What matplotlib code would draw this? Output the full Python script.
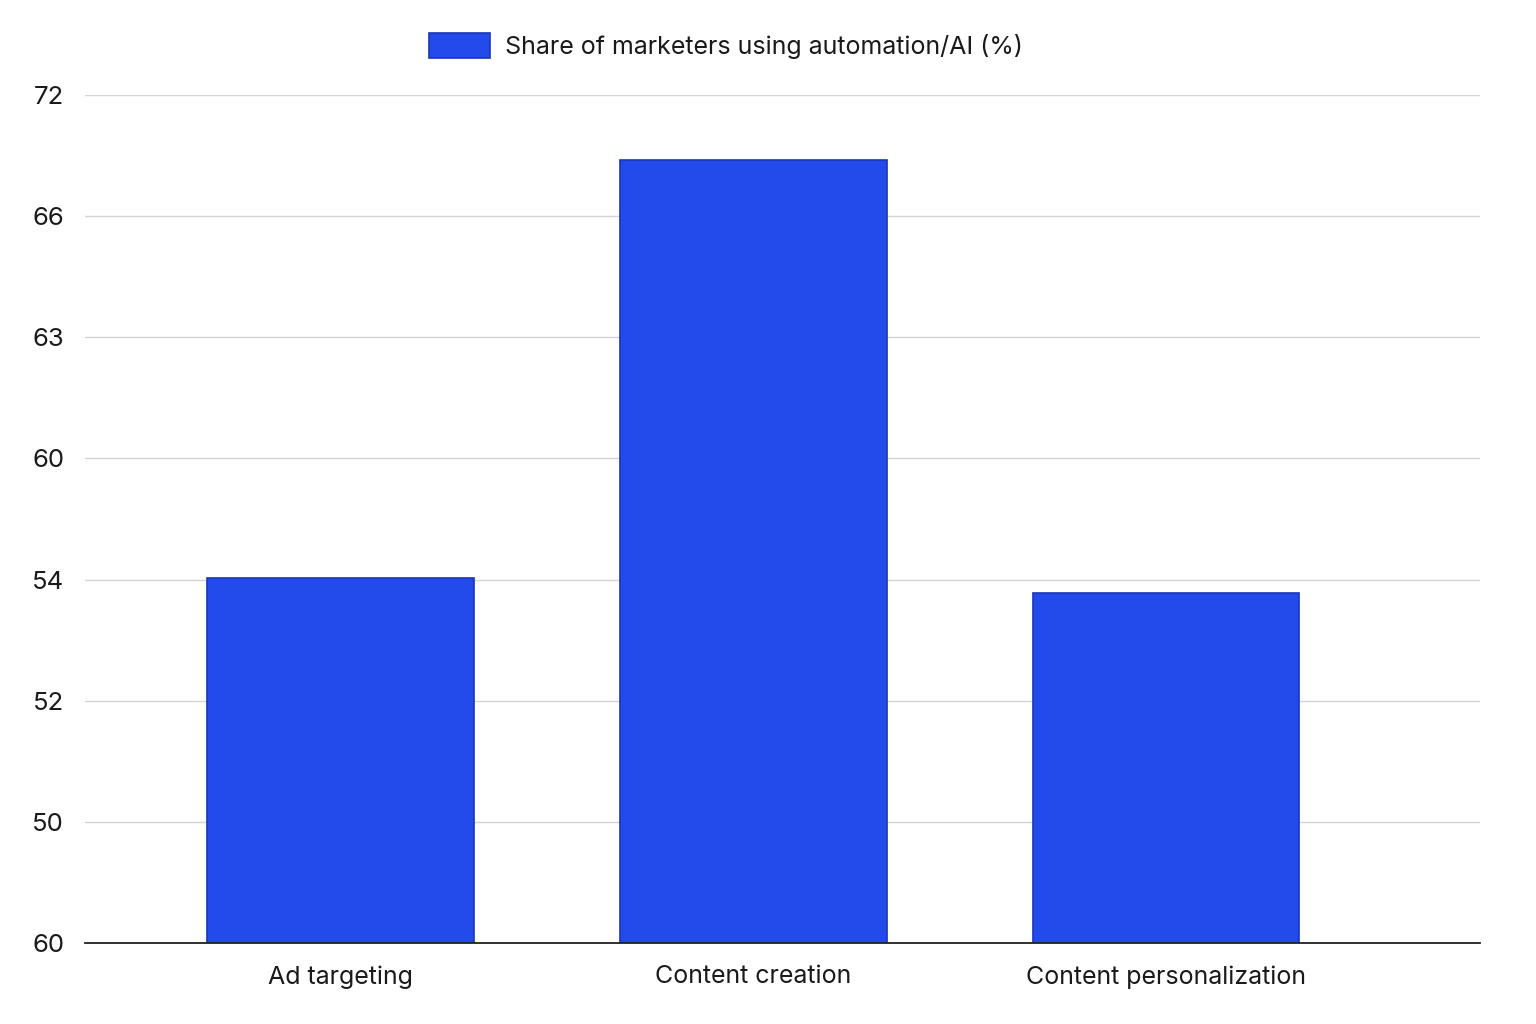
import matplotlib
matplotlib.use("Agg")
import matplotlib.pyplot as plt
import numpy as np

categories = ["Ad targeting", "Content creation", "Content personalization"]
# bar heights measured in grid steps above the baseline (the axis labels are not linear)
values = [3.01, 6.46, 2.89]
tick_labels = ["60", "50", "52", "54", "60", "63", "66", "72"]
series_name = "Share of marketers using automation/AI (%)"

plt.rcParams['font.family'] = ['Inter', 'DejaVu Sans']

fig = plt.figure(figsize=(15.36, 10.24), dpi=100)
ax = fig.add_axes([85/1536, 1-943/1024, (1480-85)/1536, (943-95)/1024])

x = np.arange(len(categories))
bars = ax.bar(x, values, width=0.645, color="#234BEC", edgecolor="#1A36B5",
              linewidth=1.2, label=series_name, zorder=3)

ax.set_ylim(0, len(tick_labels) - 1)
ax.set_xlim(-0.619, 2.76)
ax.set_yticks(np.arange(len(tick_labels)))
ax.set_yticklabels(tick_labels)
ax.set_xticks(x)
ax.set_xticklabels(categories)

ax.grid(axis='y', color="#d4d4d4", linewidth=1.0, zorder=0)
ax.grid(axis='x', visible=False)
for s in ['top', 'right', 'left']:
    ax.spines[s].set_visible(False)
ax.spines['bottom'].set_color("#222222")
ax.spines['bottom'].set_linewidth(1.3)
ax.spines['bottom'].set_zorder(4)

ax.tick_params(axis='y', length=0, pad=15, labelsize=18.5, labelcolor="#1a1a1a")
ax.tick_params(axis='x', length=0, pad=16, labelsize=18, labelcolor="#1a1a1a")

fig.legend(handles=[bars], labels=[series_name], loc='center',
           bbox_to_anchor=(726/1536, 1-46/1024), frameon=False, fontsize=18,
           handlelength=2.44, handleheight=1.12, handletextpad=0.6,
           labelcolor="#1a1a1a")

fig.savefig("out.png", dpi=100, facecolor="white")
